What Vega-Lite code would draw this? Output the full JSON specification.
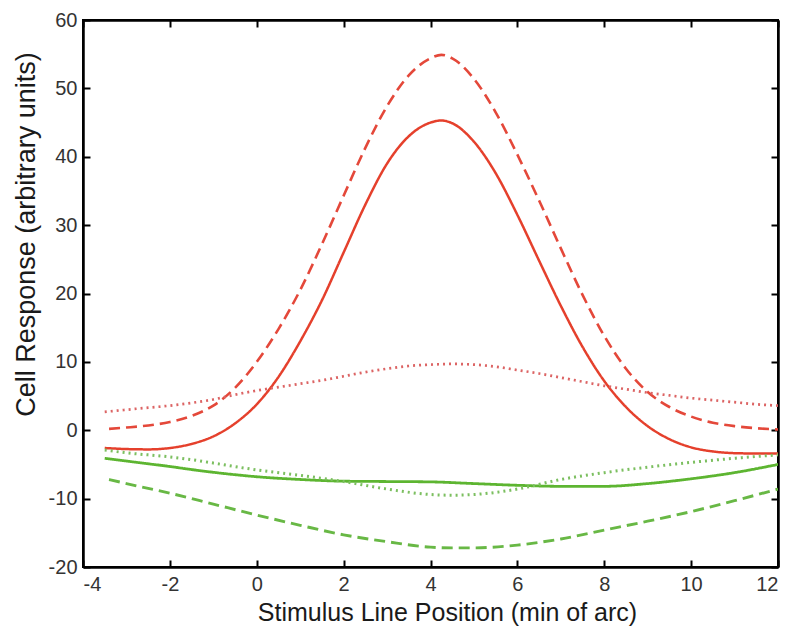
{
  "$schema": "https://vega.github.io/schema/vega-lite/v6.json",
  "width": 695,
  "height": 547,
  "autosize": {"type": "none"},
  "padding": {"left": 83, "top": 20, "right": 22, "bottom": 72},
  "background": "white",
  "config": {
    "view": {"stroke": "black", "strokeWidth": 2},
    "axis": {
      "grid": false,
      "domainColor": "black",
      "domainWidth": 2.5,
      "tickColor": "black",
      "tickWidth": 2,
      "tickSize": -7,
      "labelFont": "Liberation Sans",
      "labelFontSize": 20,
      "labelColor": "#333333",
      "labelExpr": "'' + datum.value",
      "titleFont": "Liberation Sans",
      "titleFontWeight": "normal",
      "titleColor": "#1a1a1a"
    }
  },
  "data": {
    "values": [
      {"curve": "rs", "x": -3.5, "y": -2.6}, {"curve": "rs", "x": -3, "y": -2.75}, {"curve": "rs", "x": -2.5, "y": -2.8}, {"curve": "rs", "x": -2, "y": -2.6}, {"curve": "rs", "x": -1.5, "y": -2.0}, {"curve": "rs", "x": -1, "y": -0.9}, {"curve": "rs", "x": -0.5, "y": 1.0}, {"curve": "rs", "x": 0, "y": 3.8}, {"curve": "rs", "x": 0.5, "y": 7.8}, {"curve": "rs", "x": 1, "y": 13.0}, {"curve": "rs", "x": 1.5, "y": 19.0}, {"curve": "rs", "x": 2, "y": 26.0}, {"curve": "rs", "x": 2.5, "y": 33.0}, {"curve": "rs", "x": 3, "y": 39.0}, {"curve": "rs", "x": 3.5, "y": 43.0}, {"curve": "rs", "x": 4, "y": 45.0}, {"curve": "rs", "x": 4.25, "y": 45.3}, {"curve": "rs", "x": 4.5, "y": 44.9}, {"curve": "rs", "x": 5, "y": 42.2}, {"curve": "rs", "x": 5.5, "y": 37.6}, {"curve": "rs", "x": 6, "y": 31.5}, {"curve": "rs", "x": 6.5, "y": 24.8}, {"curve": "rs", "x": 7, "y": 18.2}, {"curve": "rs", "x": 7.5, "y": 12.2}, {"curve": "rs", "x": 8, "y": 7.2}, {"curve": "rs", "x": 8.5, "y": 3.4}, {"curve": "rs", "x": 9, "y": 0.6}, {"curve": "rs", "x": 9.5, "y": -1.3}, {"curve": "rs", "x": 10, "y": -2.5}, {"curve": "rs", "x": 10.5, "y": -3.1}, {"curve": "rs", "x": 11, "y": -3.35}, {"curve": "rs", "x": 11.5, "y": -3.4}, {"curve": "rs", "x": 12, "y": -3.4},
      {"curve": "rd", "x": -3.4, "y": 0.2}, {"curve": "rd", "x": -3, "y": 0.4}, {"curve": "rd", "x": -2.5, "y": 0.7}, {"curve": "rd", "x": -2, "y": 1.2}, {"curve": "rd", "x": -1.5, "y": 2.1}, {"curve": "rd", "x": -1, "y": 3.6}, {"curve": "rd", "x": -0.5, "y": 6.2}, {"curve": "rd", "x": 0, "y": 10.0}, {"curve": "rd", "x": 0.5, "y": 14.8}, {"curve": "rd", "x": 1, "y": 20.5}, {"curve": "rd", "x": 1.5, "y": 27.2}, {"curve": "rd", "x": 2, "y": 34.3}, {"curve": "rd", "x": 2.5, "y": 41.3}, {"curve": "rd", "x": 3, "y": 47.4}, {"curve": "rd", "x": 3.5, "y": 51.9}, {"curve": "rd", "x": 4, "y": 54.4}, {"curve": "rd", "x": 4.25, "y": 54.9}, {"curve": "rd", "x": 4.5, "y": 54.4}, {"curve": "rd", "x": 5, "y": 51.4}, {"curve": "rd", "x": 5.5, "y": 46.5}, {"curve": "rd", "x": 6, "y": 40.3}, {"curve": "rd", "x": 6.5, "y": 33.6}, {"curve": "rd", "x": 7, "y": 26.6}, {"curve": "rd", "x": 7.5, "y": 19.8}, {"curve": "rd", "x": 8, "y": 13.8}, {"curve": "rd", "x": 8.5, "y": 9.0}, {"curve": "rd", "x": 9, "y": 5.6}, {"curve": "rd", "x": 9.5, "y": 3.4}, {"curve": "rd", "x": 10, "y": 2.0}, {"curve": "rd", "x": 10.5, "y": 1.1}, {"curve": "rd", "x": 11, "y": 0.6}, {"curve": "rd", "x": 11.5, "y": 0.3}, {"curve": "rd", "x": 12, "y": 0.1},
      {"curve": "rp", "x": -3.5, "y": 2.7}, {"curve": "rp", "x": -3, "y": 3.0}, {"curve": "rp", "x": -2.5, "y": 3.3}, {"curve": "rp", "x": -2, "y": 3.6}, {"curve": "rp", "x": -1.5, "y": 4.0}, {"curve": "rp", "x": -1, "y": 4.5}, {"curve": "rp", "x": -0.5, "y": 5.2}, {"curve": "rp", "x": 0, "y": 5.8}, {"curve": "rp", "x": 0.5, "y": 6.3}, {"curve": "rp", "x": 1, "y": 6.8}, {"curve": "rp", "x": 1.5, "y": 7.3}, {"curve": "rp", "x": 2, "y": 7.9}, {"curve": "rp", "x": 2.5, "y": 8.5}, {"curve": "rp", "x": 3, "y": 9.0}, {"curve": "rp", "x": 3.5, "y": 9.4}, {"curve": "rp", "x": 4, "y": 9.6}, {"curve": "rp", "x": 4.5, "y": 9.7}, {"curve": "rp", "x": 5, "y": 9.6}, {"curve": "rp", "x": 5.5, "y": 9.3}, {"curve": "rp", "x": 6, "y": 8.8}, {"curve": "rp", "x": 6.5, "y": 8.3}, {"curve": "rp", "x": 7, "y": 7.7}, {"curve": "rp", "x": 7.5, "y": 7.1}, {"curve": "rp", "x": 8, "y": 6.5}, {"curve": "rp", "x": 8.5, "y": 6.0}, {"curve": "rp", "x": 9, "y": 5.5}, {"curve": "rp", "x": 9.5, "y": 5.1}, {"curve": "rp", "x": 10, "y": 4.7}, {"curve": "rp", "x": 10.5, "y": 4.4}, {"curve": "rp", "x": 11, "y": 4.1}, {"curve": "rp", "x": 11.5, "y": 3.8}, {"curve": "rp", "x": 12, "y": 3.6},
      {"curve": "gs", "x": -3.5, "y": -4.1}, {"curve": "gs", "x": -3, "y": -4.5}, {"curve": "gs", "x": -2.5, "y": -4.9}, {"curve": "gs", "x": -2, "y": -5.3}, {"curve": "gs", "x": -1.5, "y": -5.75}, {"curve": "gs", "x": -1, "y": -6.15}, {"curve": "gs", "x": -0.5, "y": -6.5}, {"curve": "gs", "x": 0, "y": -6.8}, {"curve": "gs", "x": 1, "y": -7.2}, {"curve": "gs", "x": 2, "y": -7.45}, {"curve": "gs", "x": 3, "y": -7.5}, {"curve": "gs", "x": 4, "y": -7.55}, {"curve": "gs", "x": 5, "y": -7.8}, {"curve": "gs", "x": 6, "y": -8.05}, {"curve": "gs", "x": 7, "y": -8.2}, {"curve": "gs", "x": 8, "y": -8.2}, {"curve": "gs", "x": 9, "y": -7.8}, {"curve": "gs", "x": 10, "y": -7.1}, {"curve": "gs", "x": 11, "y": -6.2}, {"curve": "gs", "x": 12, "y": -5.0},
      {"curve": "gd", "x": -3.4, "y": -7.2}, {"curve": "gd", "x": -3, "y": -7.8}, {"curve": "gd", "x": -2, "y": -9.2}, {"curve": "gd", "x": -1, "y": -10.8}, {"curve": "gd", "x": 0, "y": -12.4}, {"curve": "gd", "x": 1, "y": -13.9}, {"curve": "gd", "x": 2, "y": -15.3}, {"curve": "gd", "x": 3, "y": -16.3}, {"curve": "gd", "x": 4, "y": -17.1}, {"curve": "gd", "x": 4.5, "y": -17.2}, {"curve": "gd", "x": 5, "y": -17.2}, {"curve": "gd", "x": 6, "y": -16.8}, {"curve": "gd", "x": 7, "y": -15.9}, {"curve": "gd", "x": 8, "y": -14.6}, {"curve": "gd", "x": 9, "y": -13.3}, {"curve": "gd", "x": 10, "y": -11.9}, {"curve": "gd", "x": 11, "y": -10.3}, {"curve": "gd", "x": 12, "y": -8.6},
      {"curve": "gp", "x": -3.5, "y": -2.9}, {"curve": "gp", "x": -3, "y": -3.3}, {"curve": "gp", "x": -2, "y": -3.9}, {"curve": "gp", "x": -1.5, "y": -4.3}, {"curve": "gp", "x": -1, "y": -4.8}, {"curve": "gp", "x": 0, "y": -5.8}, {"curve": "gp", "x": 1, "y": -6.6}, {"curve": "gp", "x": 2, "y": -7.5}, {"curve": "gp", "x": 3, "y": -8.6}, {"curve": "gp", "x": 4, "y": -9.4}, {"curve": "gp", "x": 4.5, "y": -9.5}, {"curve": "gp", "x": 5, "y": -9.4}, {"curve": "gp", "x": 6, "y": -8.6}, {"curve": "gp", "x": 7, "y": -7.2}, {"curve": "gp", "x": 8, "y": -6.2}, {"curve": "gp", "x": 9, "y": -5.4}, {"curve": "gp", "x": 10, "y": -4.7}, {"curve": "gp", "x": 11, "y": -4.1}, {"curve": "gp", "x": 12, "y": -3.6}
    ]
  },
  "resolve": {"axis": {"x": "independent", "y": "independent"}},
  "layer": [
    {
      "mark": {"type": "line", "interpolate": "monotone", "clip": true},
      "encoding": {
        "x": {
          "field": "x", "type": "quantitative",
          "scale": {"domain": [-4, 12], "nice": false, "zero": false},
          "axis": {
            "orient": "bottom",
            "values": [-4, -2, 0, 2, 4, 6, 8, 10, 12],
            "labelPadding": 14,
            "labelBaseline": "top",
            "title": "Stimulus Line Position (min of arc)",
            "titleFontSize": 25,
            "titleBaseline": "middle",
            "titleX": 364,
            "titleY": 45
          }
        },
        "y": {
          "field": "y", "type": "quantitative",
          "scale": {"domain": [-20, 60], "nice": false, "zero": false},
          "axis": {
            "orient": "left",
            "values": [-20, -10, 0, 10, 20, 30, 40, 50, 60],
            "labelPadding": 13,
            "title": "Cell Response (arbitrary units)",
            "titleFontSize": 27,
            "titleBaseline": "middle",
            "titleAngle": -90,
            "titleX": -57,
            "titleY": 214
          }
        },
        "detail": {"field": "curve"},
        "color": {
          "field": "curve", "type": "nominal", "legend": null,
          "scale": {"domain": ["rs", "rd", "rp", "gs", "gd", "gp"], "range": ["#e5402c", "#e4483a", "#dc6464", "#5db531", "#68b845", "#7cbf60"]}
        },
        "strokeDash": {
          "field": "curve", "type": "nominal", "legend": null,
          "scale": {"domain": ["rs", "rd", "rp", "gs", "gd", "gp"], "range": [[1, 0], [11, 6], [2, 4], [1, 0], [11, 6], [2, 4]]}
        },
        "strokeWidth": {
          "field": "curve", "type": "nominal", "legend": null,
          "scale": {"domain": ["rs", "rd", "rp", "gs", "gd", "gp"], "range": [2.5, 3, 2.5, 2.6, 3, 2.5]}
        }
      }
    },
    {
      "mark": {"type": "point", "opacity": 0},
      "encoding": {
        "x": {
          "field": "x", "type": "quantitative",
          "scale": {"domain": [-4, 12], "nice": false, "zero": false},
          "axis": {"orient": "top", "values": [-4, -2, 0, 2, 4, 6, 8, 10, 12], "labels": false, "title": null}
        },
        "y": {
          "field": "y", "type": "quantitative",
          "scale": {"domain": [-20, 60], "nice": false, "zero": false},
          "axis": {"orient": "right", "values": [-20, -10, 0, 10, 20, 30, 40, 50, 60], "labels": false, "title": null}
        }
      }
    }
  ]
}
